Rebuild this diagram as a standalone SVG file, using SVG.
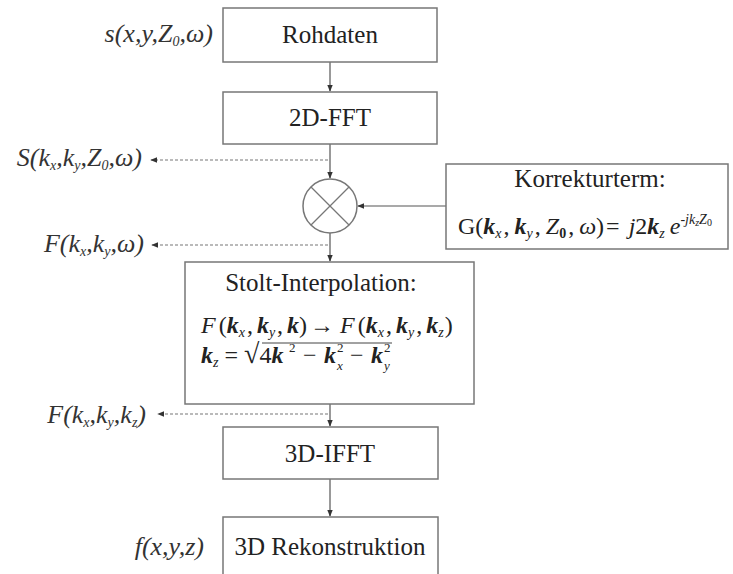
<svg xmlns="http://www.w3.org/2000/svg" width="733" height="574" viewBox="0 0 733 574">
<defs>
<style>
.box{fill:#fff;stroke:#777;stroke-width:1.5}
.t{font-family:"Liberation Serif","Times New Roman",serif;font-size:25px;fill:#222;text-anchor:middle}
.lbl{font-family:"Liberation Serif","Times New Roman",serif;font-size:26px;font-style:italic;fill:#333;text-anchor:end}
.m{font-family:"Liberation Serif","Times New Roman",serif;font-size:24px;fill:#222}
.k{font-weight:bold;font-style:italic}
.i{font-style:italic}
.sub{font-size:14px}
.ss{font-family:"Liberation Serif","Times New Roman",serif;font-size:13px;fill:#222}
.ln{stroke:#555;stroke-width:1.2;fill:none}
.dash{stroke:#777;stroke-width:1.2;stroke-dasharray:3 2;fill:none}
</style>
<marker id="ah" viewBox="0 0 10 10" refX="9" refY="5" markerWidth="6" markerHeight="6" orient="auto"><path d="M0,1 L10,5 L0,9 z" fill="#333"/></marker>
</defs>
<rect width="733" height="574" fill="#fff"/>
<g id="connectors">
<line class="ln" x1="330" y1="62" x2="330" y2="91" marker-end="url(#ah)"/>
<line class="ln" x1="330" y1="144" x2="330" y2="178" marker-end="url(#ah)"/>
<line class="ln" x1="446" y1="206" x2="358" y2="206" marker-end="url(#ah)"/>
<line class="ln" x1="330" y1="233" x2="330" y2="261" marker-end="url(#ah)"/>
<line class="ln" x1="330" y1="404" x2="330" y2="426" marker-end="url(#ah)"/>
<line class="ln" x1="330" y1="479" x2="330" y2="516" marker-end="url(#ah)"/>
<line class="dash" x1="328" y1="160" x2="151" y2="160" marker-end="url(#ah)"/>
<line class="dash" x1="328" y1="245" x2="152" y2="245" marker-end="url(#ah)"/>
<line class="dash" x1="328" y1="414" x2="158" y2="414" marker-end="url(#ah)"/>
</g>
<g id="rohdaten">
<rect class="box" x="223" y="8" width="214" height="54"/>
<text class="t" x="330" y="43">Rohdaten</text>
</g>
<g id="fft2d">
<rect class="box" x="223" y="92" width="214" height="52"/>
<text class="t" x="330" y="126">2D-FFT</text>
</g>
<g id="multiplier">
<circle cx="330" cy="206" r="27" fill="#fff" stroke="#777" stroke-width="1.5"/>
<line x1="311" y1="187" x2="349" y2="225" stroke="#777" stroke-width="1.2"/>
<line x1="349" y1="187" x2="311" y2="225" stroke="#777" stroke-width="1.2"/>
</g>
<g id="korrektur">
<rect class="box" x="446" y="164" width="282" height="85"/>
<text class="t" x="590" y="187">Korrekturterm:</text>
<text class="m" x="458" y="234">G(<tspan class="k">k</tspan><tspan class="i sub" dy="4">x</tspan><tspan dy="-4" dx="2">,</tspan><tspan class="k" dx="5">k</tspan><tspan class="i sub" dy="4">y</tspan><tspan dy="-4" dx="2">,</tspan><tspan class="i" dx="5">Z</tspan><tspan class="sub" dy="4" font-weight="bold">0</tspan><tspan dy="-4" dx="2">,</tspan><tspan class="i" dx="5">ω</tspan>)<tspan dx="2">= </tspan><tspan class="i" dx="3">j</tspan>2<tspan class="k">k</tspan><tspan class="i sub" dy="4">z</tspan><tspan class="i" dy="-4" dx="5">e</tspan><tspan class="i" font-size="14" dy="-10">-jk</tspan><tspan font-size="10" class="i" dy="2">z</tspan><tspan font-size="14" class="i" dy="-2">Z</tspan><tspan font-size="10" dy="2">0</tspan></text>
</g>
<g id="stolt">
<rect class="box" x="185" y="262" width="289" height="142"/>
<text class="t" x="321" y="291">Stolt-Interpolation:</text>
<text class="m" x="201" y="333"><tspan class="i">F</tspan><tspan dx="3">(</tspan><tspan class="k">k</tspan><tspan class="i sub" dy="4">x</tspan><tspan dy="-4" dx="2">,</tspan><tspan class="k" dx="4">k</tspan><tspan class="i sub" dy="4">y</tspan><tspan dy="-4" dx="2">,</tspan><tspan class="k" dx="4">k</tspan>)<tspan dx="3">→ </tspan><tspan class="i">F</tspan><tspan dx="3">(</tspan><tspan class="k">k</tspan><tspan class="i sub" dy="4">x</tspan><tspan dy="-4" dx="2">,</tspan><tspan class="k" dx="4">k</tspan><tspan class="i sub" dy="4">y</tspan><tspan dy="-4" dx="2">,</tspan><tspan class="k" dx="4">k</tspan><tspan class="i sub" dy="4">z</tspan><tspan dy="-4" dx="1">)</tspan></text>
<text class="m" x="201" y="363"><tspan class="k">k</tspan><tspan class="i sub" dy="4">z</tspan><tspan dy="-4"> = </tspan><tspan font-size="28">√</tspan>4<tspan class="k">k</tspan></text>
<text class="ss" x="289" y="352">2</text>
<text class="m" x="303" y="363">−</text>
<text class="m k" x="324" y="363">k</text>
<text class="ss" x="337" y="352">2</text>
<text class="ss i" x="337" y="370">x</text>
<text class="m" x="350" y="363">−</text>
<text class="m k" x="371" y="363">k</text>
<text class="ss" x="384" y="352">2</text>
<text class="ss i" x="384" y="370">y</text>
<line x1="262" y1="343" x2="392" y2="343" stroke="#444" stroke-width="1"/>
</g>
<g id="ifft3d">
<rect class="box" x="223" y="427" width="215" height="52"/>
<text class="t" x="330" y="462">3D-IFFT</text>
</g>
<g id="rekonstruktion">
<rect class="box" x="223" y="517" width="215" height="70"/>
<text class="t" x="330" y="555">3D Rekonstruktion</text>
</g>
<g id="labels">
<text class="lbl" x="213" y="42">s(x,y,Z<tspan class="sub" dy="4">0</tspan><tspan dy="-4">,ω)</tspan></text>
<text class="lbl" x="142" y="166">S(k<tspan class="sub" dy="4">x</tspan><tspan dy="-4">,k</tspan><tspan class="sub" dy="4">y</tspan><tspan dy="-4">,Z</tspan><tspan class="sub" dy="4">0</tspan><tspan dy="-4">,ω)</tspan></text>
<text class="lbl" x="144" y="252">F(k<tspan class="sub" dy="4">x</tspan><tspan dy="-4">,k</tspan><tspan class="sub" dy="4">y</tspan><tspan dy="-4">,ω)</tspan></text>
<text class="lbl" x="146" y="423">F(k<tspan class="sub" dy="4">x</tspan><tspan dy="-4">,k</tspan><tspan class="sub" dy="4">y</tspan><tspan dy="-4">,k</tspan><tspan class="sub" dy="4">z</tspan><tspan dy="-4">)</tspan></text>
<text class="lbl" x="204" y="555">f(x,y,z)</text>
</g>
</svg>
